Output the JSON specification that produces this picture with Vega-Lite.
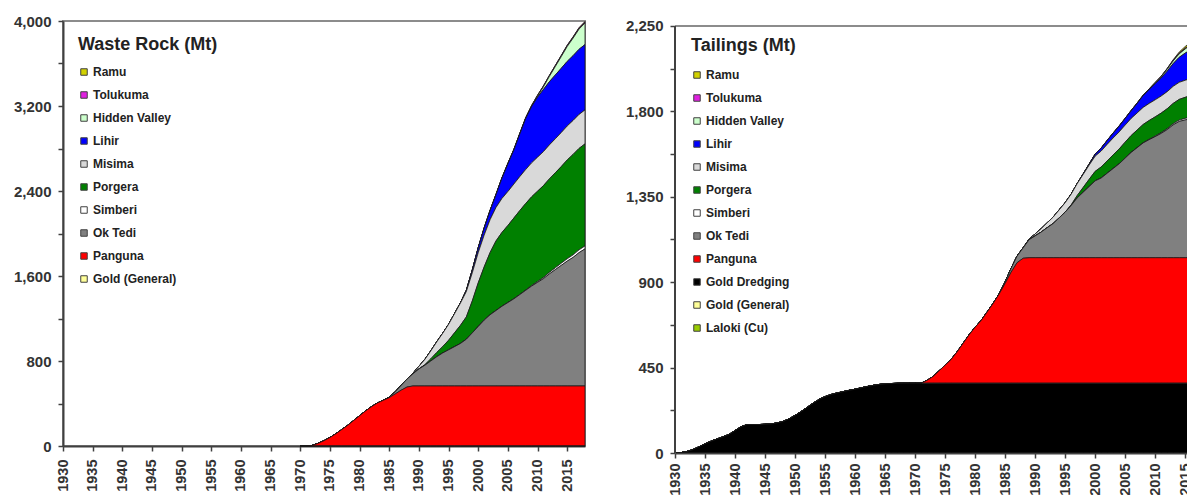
{
  "$schema": "https://vega.github.io/schema/vega-lite/v6.json",
  "background": "white",
  "padding": {"left": 12, "top": 13, "right": 0, "bottom": 0},
  "spacing": 38,
  "resolve": {"scale": {"color": "independent", "x": "independent", "y": "independent"}, "legend": {"color": "independent"}},
  "hconcat": [
    {
      "width": 522,
      "height": 425,
      "data": {"values": [
        {"year":1970,"Ramu":0,"Tolukuma":0,"Hidden Valley":0,"Lihir":0,"Misima":0,"Porgera":0,"Simberi":0,"Ok Tedi":0,"Panguna":0,"Gold (General)":0},
        {"year":1971,"Ramu":0,"Tolukuma":0,"Hidden Valley":0,"Lihir":0,"Misima":0,"Porgera":0,"Simberi":0,"Ok Tedi":0,"Panguna":0,"Gold (General)":0},
        {"year":1972,"Ramu":0,"Tolukuma":0,"Hidden Valley":0,"Lihir":0,"Misima":0,"Porgera":0,"Simberi":0,"Ok Tedi":0,"Panguna":5,"Gold (General)":0},
        {"year":1973,"Ramu":0,"Tolukuma":0,"Hidden Valley":0,"Lihir":0,"Misima":0,"Porgera":0,"Simberi":0,"Ok Tedi":0,"Panguna":25,"Gold (General)":0},
        {"year":1974,"Ramu":0,"Tolukuma":0,"Hidden Valley":0,"Lihir":0,"Misima":0,"Porgera":0,"Simberi":0,"Ok Tedi":0,"Panguna":50,"Gold (General)":0},
        {"year":1975,"Ramu":0,"Tolukuma":0,"Hidden Valley":0,"Lihir":0,"Misima":0,"Porgera":0,"Simberi":0,"Ok Tedi":0,"Panguna":80,"Gold (General)":0},
        {"year":1976,"Ramu":0,"Tolukuma":0,"Hidden Valley":0,"Lihir":0,"Misima":0,"Porgera":0,"Simberi":0,"Ok Tedi":0,"Panguna":115,"Gold (General)":0},
        {"year":1977,"Ramu":0,"Tolukuma":0,"Hidden Valley":0,"Lihir":0,"Misima":0,"Porgera":0,"Simberi":0,"Ok Tedi":0,"Panguna":155,"Gold (General)":0},
        {"year":1978,"Ramu":0,"Tolukuma":0,"Hidden Valley":0,"Lihir":0,"Misima":0,"Porgera":0,"Simberi":0,"Ok Tedi":0,"Panguna":195,"Gold (General)":0},
        {"year":1979,"Ramu":0,"Tolukuma":0,"Hidden Valley":0,"Lihir":0,"Misima":0,"Porgera":0,"Simberi":0,"Ok Tedi":0,"Panguna":240,"Gold (General)":0},
        {"year":1980,"Ramu":0,"Tolukuma":0,"Hidden Valley":0,"Lihir":0,"Misima":0,"Porgera":0,"Simberi":0,"Ok Tedi":0,"Panguna":285,"Gold (General)":0},
        {"year":1981,"Ramu":0,"Tolukuma":0,"Hidden Valley":0,"Lihir":0,"Misima":0,"Porgera":0,"Simberi":0,"Ok Tedi":0,"Panguna":330,"Gold (General)":0},
        {"year":1982,"Ramu":0,"Tolukuma":0,"Hidden Valley":0,"Lihir":0,"Misima":0,"Porgera":0,"Simberi":0,"Ok Tedi":0,"Panguna":370,"Gold (General)":0},
        {"year":1983,"Ramu":0,"Tolukuma":0,"Hidden Valley":0,"Lihir":0,"Misima":0,"Porgera":0,"Simberi":0,"Ok Tedi":0,"Panguna":405,"Gold (General)":0},
        {"year":1984,"Ramu":0,"Tolukuma":0,"Hidden Valley":0,"Lihir":0,"Misima":0,"Porgera":0,"Simberi":0,"Ok Tedi":0,"Panguna":430,"Gold (General)":0},
        {"year":1985,"Ramu":0,"Tolukuma":0,"Hidden Valley":0,"Lihir":0,"Misima":0,"Porgera":0,"Simberi":0,"Ok Tedi":5,"Panguna":455,"Gold (General)":0},
        {"year":1986,"Ramu":0,"Tolukuma":0,"Hidden Valley":0,"Lihir":0,"Misima":0,"Porgera":0,"Simberi":0,"Ok Tedi":20,"Panguna":490,"Gold (General)":0},
        {"year":1987,"Ramu":0,"Tolukuma":0,"Hidden Valley":0,"Lihir":0,"Misima":0,"Porgera":0,"Simberi":0,"Ok Tedi":45,"Panguna":525,"Gold (General)":0},
        {"year":1988,"Ramu":0,"Tolukuma":0,"Hidden Valley":0,"Lihir":0,"Misima":0,"Porgera":0,"Simberi":0,"Ok Tedi":75,"Panguna":555,"Gold (General)":0},
        {"year":1989,"Ramu":0,"Tolukuma":0,"Hidden Valley":0,"Lihir":0,"Misima":5,"Porgera":0,"Simberi":0,"Ok Tedi":115,"Panguna":565,"Gold (General)":0},
        {"year":1990,"Ramu":0,"Tolukuma":0,"Hidden Valley":0,"Lihir":0,"Misima":25,"Porgera":0,"Simberi":0,"Ok Tedi":160,"Panguna":565,"Gold (General)":0},
        {"year":1991,"Ramu":0,"Tolukuma":0,"Hidden Valley":0,"Lihir":0,"Misima":50,"Porgera":5,"Simberi":0,"Ok Tedi":195,"Panguna":565,"Gold (General)":0},
        {"year":1992,"Ramu":0,"Tolukuma":0,"Hidden Valley":0,"Lihir":0,"Misima":75,"Porgera":20,"Simberi":0,"Ok Tedi":235,"Panguna":565,"Gold (General)":0},
        {"year":1993,"Ramu":0,"Tolukuma":0,"Hidden Valley":0,"Lihir":0,"Misima":100,"Porgera":40,"Simberi":0,"Ok Tedi":275,"Panguna":565,"Gold (General)":0},
        {"year":1994,"Ramu":0,"Tolukuma":0,"Hidden Valley":0,"Lihir":0,"Misima":125,"Porgera":60,"Simberi":0,"Ok Tedi":310,"Panguna":565,"Gold (General)":0},
        {"year":1995,"Ramu":0,"Tolukuma":0,"Hidden Valley":0,"Lihir":0,"Misima":150,"Porgera":90,"Simberi":0,"Ok Tedi":340,"Panguna":565,"Gold (General)":0},
        {"year":1996,"Ramu":0,"Tolukuma":0.4,"Hidden Valley":0,"Lihir":0,"Misima":180,"Porgera":130,"Simberi":0,"Ok Tedi":370,"Panguna":565,"Gold (General)":0},
        {"year":1997,"Ramu":0,"Tolukuma":0.9,"Hidden Valley":0,"Lihir":2,"Misima":210,"Porgera":170,"Simberi":0,"Ok Tedi":400,"Panguna":565,"Gold (General)":0},
        {"year":1998,"Ramu":0,"Tolukuma":1.5,"Hidden Valley":0,"Lihir":10,"Misima":240,"Porgera":210,"Simberi":0,"Ok Tedi":440,"Panguna":565,"Gold (General)":0},
        {"year":1999,"Ramu":0,"Tolukuma":2,"Hidden Valley":0,"Lihir":25,"Misima":265,"Porgera":300,"Simberi":0,"Ok Tedi":500,"Panguna":565,"Gold (General)":0},
        {"year":2000,"Ramu":0,"Tolukuma":2.6,"Hidden Valley":0,"Lihir":45,"Misima":285,"Porgera":410,"Simberi":0,"Ok Tedi":560,"Panguna":565,"Gold (General)":0},
        {"year":2001,"Ramu":0,"Tolukuma":3.1,"Hidden Valley":0,"Lihir":65,"Misima":300,"Porgera":500,"Simberi":0,"Ok Tedi":620,"Panguna":565,"Gold (General)":0},
        {"year":2002,"Ramu":0,"Tolukuma":3.5,"Hidden Valley":0,"Lihir":85,"Misima":310,"Porgera":585,"Simberi":0,"Ok Tedi":670,"Panguna":565,"Gold (General)":0},
        {"year":2003,"Ramu":0,"Tolukuma":4,"Hidden Valley":0,"Lihir":120,"Misima":315,"Porgera":655,"Simberi":0,"Ok Tedi":710,"Panguna":565,"Gold (General)":0},
        {"year":2004,"Ramu":0,"Tolukuma":4.6,"Hidden Valley":0,"Lihir":190,"Misima":320,"Porgera":695,"Simberi":0,"Ok Tedi":750,"Panguna":565,"Gold (General)":0},
        {"year":2005,"Ramu":0,"Tolukuma":5.1,"Hidden Valley":0,"Lihir":260,"Misima":320,"Porgera":725,"Simberi":0,"Ok Tedi":785,"Panguna":565,"Gold (General)":0},
        {"year":2006,"Ramu":0,"Tolukuma":5.5,"Hidden Valley":0,"Lihir":320,"Misima":320,"Porgera":760,"Simberi":0,"Ok Tedi":820,"Panguna":565,"Gold (General)":0},
        {"year":2007,"Ramu":0,"Tolukuma":6,"Hidden Valley":0,"Lihir":400,"Misima":320,"Porgera":790,"Simberi":0,"Ok Tedi":860,"Panguna":565,"Gold (General)":0},
        {"year":2008,"Ramu":0,"Tolukuma":6.6,"Hidden Valley":0,"Lihir":480,"Misima":320,"Porgera":815,"Simberi":2,"Ok Tedi":900,"Panguna":565,"Gold (General)":0},
        {"year":2009,"Ramu":0,"Tolukuma":7.1,"Hidden Valley":2,"Lihir":530,"Misima":320,"Porgera":835,"Simberi":5,"Ok Tedi":940,"Panguna":565,"Gold (General)":0},
        {"year":2010,"Ramu":0,"Tolukuma":7.5,"Hidden Valley":10,"Lihir":565,"Misima":320,"Porgera":850,"Simberi":8,"Ok Tedi":975,"Panguna":565,"Gold (General)":0},
        {"year":2011,"Ramu":0,"Tolukuma":7.9,"Hidden Valley":25,"Lihir":585,"Misima":320,"Porgera":865,"Simberi":11,"Ok Tedi":1010,"Panguna":565,"Gold (General)":0},
        {"year":2012,"Ramu":0.4,"Tolukuma":8.3,"Hidden Valley":50,"Lihir":595,"Misima":320,"Porgera":880,"Simberi":14,"Ok Tedi":1055,"Panguna":565,"Gold (General)":0},
        {"year":2013,"Ramu":1.3,"Tolukuma":8.6,"Hidden Valley":80,"Lihir":600,"Misima":320,"Porgera":895,"Simberi":17,"Ok Tedi":1095,"Panguna":565,"Gold (General)":0},
        {"year":2014,"Ramu":2.4,"Tolukuma":8.9,"Hidden Valley":110,"Lihir":605,"Misima":320,"Porgera":910,"Simberi":20,"Ok Tedi":1135,"Panguna":565,"Gold (General)":0},
        {"year":2015,"Ramu":3.3,"Tolukuma":9.1,"Hidden Valley":140,"Lihir":608,"Misima":320,"Porgera":930,"Simberi":22,"Ok Tedi":1175,"Panguna":565,"Gold (General)":0},
        {"year":2016,"Ramu":4.4,"Tolukuma":9.1,"Hidden Valley":165,"Lihir":610,"Misima":320,"Porgera":945,"Simberi":24,"Ok Tedi":1210,"Panguna":565,"Gold (General)":0},
        {"year":2017,"Ramu":5.2,"Tolukuma":9.1,"Hidden Valley":190,"Lihir":613,"Misima":320,"Porgera":955,"Simberi":26,"Ok Tedi":1255,"Panguna":565,"Gold (General)":0},
        {"year":2018,"Ramu":6.1,"Tolukuma":9.1,"Hidden Valley":203,"Lihir":615,"Misima":320,"Porgera":960,"Simberi":28,"Ok Tedi":1290,"Panguna":565,"Gold (General)":0}
      ]},
      "transform": [
        {"fold": ["Ramu","Tolukuma","Hidden Valley","Lihir","Misima","Porgera","Simberi","Ok Tedi","Panguna","Gold (General)"], "as": ["mine","value"]},
        {"calculate": "indexof(['Gold (General)','Panguna','Ok Tedi','Simberi','Porgera','Misima','Lihir','Hidden Valley','Tolukuma','Ramu'], datum.mine)", "as": "ord"}
      ],
      "mark": {"type": "area", "stroke": "#1a1a1a", "strokeWidth": 0.8, "strokeJoin": "round"},
      "encoding": {
        "x": {"field": "year", "type": "quantitative", "title": null,
              "scale": {"domain": [1930, 2018], "nice": false, "zero": false},
              "axis": {"values": [1930,1935,1940,1945,1950,1955,1960,1965,1970,1975,1980,1985,1990,1995,2000,2005,2010,2015], "format": "d", "labelPadding": 8}},
        "y": {"field": "value", "type": "quantitative", "stack": "zero", "title": null,
              "scale": {"domain": [0, 4000], "nice": false},
              "axis": {"values": [0,400,800,1200,1600,2000,2400,2800,3200,3600,4000], "labelExpr": "datum.value % 800 === 0 ? format(datum.value, ',') : ''"}},
        "color": {"field": "mine", "type": "nominal",
                  "scale": {"domain": ["Ramu","Tolukuma","Hidden Valley","Lihir","Misima","Porgera","Simberi","Ok Tedi","Panguna","Gold (General)"],
                            "range": ["#D2D200","#E020E0","#CCFFCC","#0000FF","#D9D9D9","#008000","#FFFFFF","#808080","#FF0000","#FFFF99"]},
                  "legend": {"title": "Waste Rock (Mt)", "offset": 15}},
        "order": {"field": "ord", "type": "quantitative"}
      }
    },
    {
      "width": 515,
      "height": 432,
      "view": {"stroke": null},
      "data": {"values": [
        {"year":1930,"Ramu":0,"Tolukuma":0,"Hidden Valley":0,"Lihir":0,"Misima":0,"Porgera":0,"Simberi":0,"Ok Tedi":0,"Panguna":0,"Gold Dredging":0,"Gold (General)":0,"Laloki (Cu)":0},
        {"year":1931,"Ramu":0,"Tolukuma":0,"Hidden Valley":0,"Lihir":0,"Misima":0,"Porgera":0,"Simberi":0,"Ok Tedi":0,"Panguna":0,"Gold Dredging":2,"Gold (General)":0,"Laloki (Cu)":0},
        {"year":1932,"Ramu":0,"Tolukuma":0,"Hidden Valley":0,"Lihir":0,"Misima":0,"Porgera":0,"Simberi":0,"Ok Tedi":0,"Panguna":0,"Gold Dredging":8,"Gold (General)":0,"Laloki (Cu)":0},
        {"year":1933,"Ramu":0,"Tolukuma":0,"Hidden Valley":0,"Lihir":0,"Misima":0,"Porgera":0,"Simberi":0,"Ok Tedi":0,"Panguna":0,"Gold Dredging":18,"Gold (General)":0,"Laloki (Cu)":0},
        {"year":1934,"Ramu":0,"Tolukuma":0,"Hidden Valley":0,"Lihir":0,"Misima":0,"Porgera":0,"Simberi":0,"Ok Tedi":0,"Panguna":0,"Gold Dredging":33,"Gold (General)":0,"Laloki (Cu)":0},
        {"year":1935,"Ramu":0,"Tolukuma":0,"Hidden Valley":0,"Lihir":0,"Misima":0,"Porgera":0,"Simberi":0,"Ok Tedi":0,"Panguna":0,"Gold Dredging":48,"Gold (General)":0,"Laloki (Cu)":0},
        {"year":1936,"Ramu":0,"Tolukuma":0,"Hidden Valley":0,"Lihir":0,"Misima":0,"Porgera":0,"Simberi":0,"Ok Tedi":0,"Panguna":0,"Gold Dredging":62,"Gold (General)":0,"Laloki (Cu)":0},
        {"year":1937,"Ramu":0,"Tolukuma":0,"Hidden Valley":0,"Lihir":0,"Misima":0,"Porgera":0,"Simberi":0,"Ok Tedi":0,"Panguna":0,"Gold Dredging":74,"Gold (General)":0,"Laloki (Cu)":0},
        {"year":1938,"Ramu":0,"Tolukuma":0,"Hidden Valley":0,"Lihir":0,"Misima":0,"Porgera":0,"Simberi":0,"Ok Tedi":0,"Panguna":0,"Gold Dredging":85,"Gold (General)":0,"Laloki (Cu)":0},
        {"year":1939,"Ramu":0,"Tolukuma":0,"Hidden Valley":0,"Lihir":0,"Misima":0,"Porgera":0,"Simberi":0,"Ok Tedi":0,"Panguna":0,"Gold Dredging":98,"Gold (General)":0,"Laloki (Cu)":0},
        {"year":1940,"Ramu":0,"Tolukuma":0,"Hidden Valley":0,"Lihir":0,"Misima":0,"Porgera":0,"Simberi":0,"Ok Tedi":0,"Panguna":0,"Gold Dredging":118,"Gold (General)":0,"Laloki (Cu)":0},
        {"year":1941,"Ramu":0,"Tolukuma":0,"Hidden Valley":0,"Lihir":0,"Misima":0,"Porgera":0,"Simberi":0,"Ok Tedi":0,"Panguna":0,"Gold Dredging":138,"Gold (General)":0,"Laloki (Cu)":0},
        {"year":1942,"Ramu":0,"Tolukuma":0,"Hidden Valley":0,"Lihir":0,"Misima":0,"Porgera":0,"Simberi":0,"Ok Tedi":0,"Panguna":0,"Gold Dredging":150,"Gold (General)":0,"Laloki (Cu)":0},
        {"year":1943,"Ramu":0,"Tolukuma":0,"Hidden Valley":0,"Lihir":0,"Misima":0,"Porgera":0,"Simberi":0,"Ok Tedi":0,"Panguna":0,"Gold Dredging":150,"Gold (General)":0,"Laloki (Cu)":0},
        {"year":1944,"Ramu":0,"Tolukuma":0,"Hidden Valley":0,"Lihir":0,"Misima":0,"Porgera":0,"Simberi":0,"Ok Tedi":0,"Panguna":0,"Gold Dredging":150,"Gold (General)":0,"Laloki (Cu)":0},
        {"year":1945,"Ramu":0,"Tolukuma":0,"Hidden Valley":0,"Lihir":0,"Misima":0,"Porgera":0,"Simberi":0,"Ok Tedi":0,"Panguna":0,"Gold Dredging":151,"Gold (General)":0,"Laloki (Cu)":0},
        {"year":1946,"Ramu":0,"Tolukuma":0,"Hidden Valley":0,"Lihir":0,"Misima":0,"Porgera":0,"Simberi":0,"Ok Tedi":0,"Panguna":0,"Gold Dredging":153,"Gold (General)":0,"Laloki (Cu)":0},
        {"year":1947,"Ramu":0,"Tolukuma":0,"Hidden Valley":0,"Lihir":0,"Misima":0,"Porgera":0,"Simberi":0,"Ok Tedi":0,"Panguna":0,"Gold Dredging":158,"Gold (General)":0,"Laloki (Cu)":0},
        {"year":1948,"Ramu":0,"Tolukuma":0,"Hidden Valley":0,"Lihir":0,"Misima":0,"Porgera":0,"Simberi":0,"Ok Tedi":0,"Panguna":0,"Gold Dredging":166,"Gold (General)":0,"Laloki (Cu)":0},
        {"year":1949,"Ramu":0,"Tolukuma":0,"Hidden Valley":0,"Lihir":0,"Misima":0,"Porgera":0,"Simberi":0,"Ok Tedi":0,"Panguna":0,"Gold Dredging":180,"Gold (General)":0,"Laloki (Cu)":0},
        {"year":1950,"Ramu":0,"Tolukuma":0,"Hidden Valley":0,"Lihir":0,"Misima":0,"Porgera":0,"Simberi":0,"Ok Tedi":0,"Panguna":0,"Gold Dredging":198,"Gold (General)":0,"Laloki (Cu)":0},
        {"year":1951,"Ramu":0,"Tolukuma":0,"Hidden Valley":0,"Lihir":0,"Misima":0,"Porgera":0,"Simberi":0,"Ok Tedi":0,"Panguna":0,"Gold Dredging":218,"Gold (General)":0,"Laloki (Cu)":0},
        {"year":1952,"Ramu":0,"Tolukuma":0,"Hidden Valley":0,"Lihir":0,"Misima":0,"Porgera":0,"Simberi":0,"Ok Tedi":0,"Panguna":0,"Gold Dredging":240,"Gold (General)":0,"Laloki (Cu)":0},
        {"year":1953,"Ramu":0,"Tolukuma":0,"Hidden Valley":0,"Lihir":0,"Misima":0,"Porgera":0,"Simberi":0,"Ok Tedi":0,"Panguna":0,"Gold Dredging":262,"Gold (General)":0,"Laloki (Cu)":0},
        {"year":1954,"Ramu":0,"Tolukuma":0,"Hidden Valley":0,"Lihir":0,"Misima":0,"Porgera":0,"Simberi":0,"Ok Tedi":0,"Panguna":0,"Gold Dredging":282,"Gold (General)":0,"Laloki (Cu)":0},
        {"year":1955,"Ramu":0,"Tolukuma":0,"Hidden Valley":0,"Lihir":0,"Misima":0,"Porgera":0,"Simberi":0,"Ok Tedi":0,"Panguna":0,"Gold Dredging":297,"Gold (General)":0,"Laloki (Cu)":0},
        {"year":1956,"Ramu":0,"Tolukuma":0,"Hidden Valley":0,"Lihir":0,"Misima":0,"Porgera":0,"Simberi":0,"Ok Tedi":0,"Panguna":0,"Gold Dredging":308,"Gold (General)":0,"Laloki (Cu)":0},
        {"year":1957,"Ramu":0,"Tolukuma":0,"Hidden Valley":0,"Lihir":0,"Misima":0,"Porgera":0,"Simberi":0,"Ok Tedi":0,"Panguna":0,"Gold Dredging":316,"Gold (General)":0,"Laloki (Cu)":0},
        {"year":1958,"Ramu":0,"Tolukuma":0,"Hidden Valley":0,"Lihir":0,"Misima":0,"Porgera":0,"Simberi":0,"Ok Tedi":0,"Panguna":0,"Gold Dredging":323,"Gold (General)":0,"Laloki (Cu)":0},
        {"year":1959,"Ramu":0,"Tolukuma":0,"Hidden Valley":0,"Lihir":0,"Misima":0,"Porgera":0,"Simberi":0,"Ok Tedi":0,"Panguna":0,"Gold Dredging":330,"Gold (General)":0,"Laloki (Cu)":0},
        {"year":1960,"Ramu":0,"Tolukuma":0,"Hidden Valley":0,"Lihir":0,"Misima":0,"Porgera":0,"Simberi":0,"Ok Tedi":0,"Panguna":0,"Gold Dredging":336,"Gold (General)":0,"Laloki (Cu)":0},
        {"year":1961,"Ramu":0,"Tolukuma":0,"Hidden Valley":0,"Lihir":0,"Misima":0,"Porgera":0,"Simberi":0,"Ok Tedi":0,"Panguna":0,"Gold Dredging":343,"Gold (General)":0,"Laloki (Cu)":0},
        {"year":1962,"Ramu":0,"Tolukuma":0,"Hidden Valley":0,"Lihir":0,"Misima":0,"Porgera":0,"Simberi":0,"Ok Tedi":0,"Panguna":0,"Gold Dredging":350,"Gold (General)":0,"Laloki (Cu)":0},
        {"year":1963,"Ramu":0,"Tolukuma":0,"Hidden Valley":0,"Lihir":0,"Misima":0,"Porgera":0,"Simberi":0,"Ok Tedi":0,"Panguna":0,"Gold Dredging":356,"Gold (General)":0,"Laloki (Cu)":0},
        {"year":1964,"Ramu":0,"Tolukuma":0,"Hidden Valley":0,"Lihir":0,"Misima":0,"Porgera":0,"Simberi":0,"Ok Tedi":0,"Panguna":0,"Gold Dredging":361,"Gold (General)":0,"Laloki (Cu)":0},
        {"year":1965,"Ramu":0,"Tolukuma":0,"Hidden Valley":0,"Lihir":0,"Misima":0,"Porgera":0,"Simberi":0,"Ok Tedi":0,"Panguna":0,"Gold Dredging":364,"Gold (General)":0,"Laloki (Cu)":0},
        {"year":1966,"Ramu":0,"Tolukuma":0,"Hidden Valley":0,"Lihir":0,"Misima":0,"Porgera":0,"Simberi":0,"Ok Tedi":0,"Panguna":0,"Gold Dredging":366,"Gold (General)":0,"Laloki (Cu)":0},
        {"year":1967,"Ramu":0,"Tolukuma":0,"Hidden Valley":0,"Lihir":0,"Misima":0,"Porgera":0,"Simberi":0,"Ok Tedi":0,"Panguna":0,"Gold Dredging":367,"Gold (General)":0,"Laloki (Cu)":0},
        {"year":1968,"Ramu":0,"Tolukuma":0,"Hidden Valley":0,"Lihir":0,"Misima":0,"Porgera":0,"Simberi":0,"Ok Tedi":0,"Panguna":0,"Gold Dredging":368,"Gold (General)":0,"Laloki (Cu)":0},
        {"year":1969,"Ramu":0,"Tolukuma":0,"Hidden Valley":0,"Lihir":0,"Misima":0,"Porgera":0,"Simberi":0,"Ok Tedi":0,"Panguna":0,"Gold Dredging":368,"Gold (General)":0,"Laloki (Cu)":0},
        {"year":1970,"Ramu":0,"Tolukuma":0,"Hidden Valley":0,"Lihir":0,"Misima":0,"Porgera":0,"Simberi":0,"Ok Tedi":0,"Panguna":0,"Gold Dredging":368,"Gold (General)":0,"Laloki (Cu)":0},
        {"year":1971,"Ramu":0,"Tolukuma":0,"Hidden Valley":0,"Lihir":0,"Misima":0,"Porgera":0,"Simberi":0,"Ok Tedi":0,"Panguna":0,"Gold Dredging":368,"Gold (General)":0,"Laloki (Cu)":0},
        {"year":1972,"Ramu":0,"Tolukuma":0,"Hidden Valley":0,"Lihir":0,"Misima":0,"Porgera":0,"Simberi":0,"Ok Tedi":0,"Panguna":15,"Gold Dredging":368,"Gold (General)":0,"Laloki (Cu)":0},
        {"year":1973,"Ramu":0,"Tolukuma":0,"Hidden Valley":0,"Lihir":0,"Misima":0,"Porgera":0,"Simberi":0,"Ok Tedi":0,"Panguna":35,"Gold Dredging":368,"Gold (General)":0,"Laloki (Cu)":0},
        {"year":1974,"Ramu":0,"Tolukuma":0,"Hidden Valley":0,"Lihir":0,"Misima":0,"Porgera":0,"Simberi":0,"Ok Tedi":0,"Panguna":65,"Gold Dredging":368,"Gold (General)":0,"Laloki (Cu)":0},
        {"year":1975,"Ramu":0,"Tolukuma":0,"Hidden Valley":0,"Lihir":0,"Misima":0,"Porgera":0,"Simberi":0,"Ok Tedi":0,"Panguna":95,"Gold Dredging":368,"Gold (General)":0,"Laloki (Cu)":0},
        {"year":1976,"Ramu":0,"Tolukuma":0,"Hidden Valley":0,"Lihir":0,"Misima":0,"Porgera":0,"Simberi":0,"Ok Tedi":0,"Panguna":125,"Gold Dredging":368,"Gold (General)":0,"Laloki (Cu)":0},
        {"year":1977,"Ramu":0,"Tolukuma":0,"Hidden Valley":0,"Lihir":0,"Misima":0,"Porgera":0,"Simberi":0,"Ok Tedi":0,"Panguna":165,"Gold Dredging":368,"Gold (General)":0,"Laloki (Cu)":0},
        {"year":1978,"Ramu":0,"Tolukuma":0,"Hidden Valley":0,"Lihir":0,"Misima":0,"Porgera":0,"Simberi":0,"Ok Tedi":0,"Panguna":210,"Gold Dredging":368,"Gold (General)":0,"Laloki (Cu)":0},
        {"year":1979,"Ramu":0,"Tolukuma":0,"Hidden Valley":0,"Lihir":0,"Misima":0,"Porgera":0,"Simberi":0,"Ok Tedi":0,"Panguna":255,"Gold Dredging":368,"Gold (General)":0,"Laloki (Cu)":0},
        {"year":1980,"Ramu":0,"Tolukuma":0,"Hidden Valley":0,"Lihir":0,"Misima":0,"Porgera":0,"Simberi":0,"Ok Tedi":0,"Panguna":295,"Gold Dredging":368,"Gold (General)":0,"Laloki (Cu)":0},
        {"year":1981,"Ramu":0,"Tolukuma":0,"Hidden Valley":0,"Lihir":0,"Misima":0,"Porgera":0,"Simberi":0,"Ok Tedi":0,"Panguna":330,"Gold Dredging":368,"Gold (General)":0,"Laloki (Cu)":0},
        {"year":1982,"Ramu":0,"Tolukuma":0,"Hidden Valley":0,"Lihir":0,"Misima":0,"Porgera":0,"Simberi":0,"Ok Tedi":0,"Panguna":375,"Gold Dredging":368,"Gold (General)":0,"Laloki (Cu)":0},
        {"year":1983,"Ramu":0,"Tolukuma":0,"Hidden Valley":0,"Lihir":0,"Misima":0,"Porgera":0,"Simberi":0,"Ok Tedi":0,"Panguna":420,"Gold Dredging":368,"Gold (General)":0,"Laloki (Cu)":0},
        {"year":1984,"Ramu":0,"Tolukuma":0,"Hidden Valley":0,"Lihir":0,"Misima":0,"Porgera":0,"Simberi":0,"Ok Tedi":0,"Panguna":470,"Gold Dredging":368,"Gold (General)":0,"Laloki (Cu)":0},
        {"year":1985,"Ramu":0,"Tolukuma":0,"Hidden Valley":0,"Lihir":0,"Misima":0,"Porgera":0,"Simberi":0,"Ok Tedi":8,"Panguna":525,"Gold Dredging":368,"Gold (General)":0,"Laloki (Cu)":0},
        {"year":1986,"Ramu":0,"Tolukuma":0,"Hidden Valley":0,"Lihir":0,"Misima":0,"Porgera":0,"Simberi":0,"Ok Tedi":20,"Panguna":585,"Gold Dredging":368,"Gold (General)":0,"Laloki (Cu)":0},
        {"year":1987,"Ramu":0,"Tolukuma":0,"Hidden Valley":0,"Lihir":0,"Misima":0,"Porgera":0,"Simberi":0,"Ok Tedi":35,"Panguna":635,"Gold Dredging":368,"Gold (General)":0,"Laloki (Cu)":0},
        {"year":1988,"Ramu":0,"Tolukuma":0,"Hidden Valley":0,"Lihir":0,"Misima":0,"Porgera":0,"Simberi":0,"Ok Tedi":55,"Panguna":658,"Gold Dredging":368,"Gold (General)":0,"Laloki (Cu)":0},
        {"year":1989,"Ramu":0,"Tolukuma":0,"Hidden Valley":0,"Lihir":0,"Misima":3,"Porgera":0,"Simberi":0,"Ok Tedi":95,"Panguna":661,"Gold Dredging":368,"Gold (General)":0,"Laloki (Cu)":0},
        {"year":1990,"Ramu":0,"Tolukuma":0,"Hidden Valley":0,"Lihir":0,"Misima":10,"Porgera":0,"Simberi":0,"Ok Tedi":115,"Panguna":661,"Gold Dredging":368,"Gold (General)":0,"Laloki (Cu)":0},
        {"year":1991,"Ramu":0,"Tolukuma":0,"Hidden Valley":0,"Lihir":0,"Misima":18,"Porgera":0,"Simberi":0,"Ok Tedi":135,"Panguna":661,"Gold Dredging":368,"Gold (General)":0,"Laloki (Cu)":0},
        {"year":1992,"Ramu":0,"Tolukuma":0,"Hidden Valley":0,"Lihir":0,"Misima":26,"Porgera":0,"Simberi":0,"Ok Tedi":158,"Panguna":661,"Gold Dredging":368,"Gold (General)":0,"Laloki (Cu)":0},
        {"year":1993,"Ramu":0,"Tolukuma":0,"Hidden Valley":0,"Lihir":0,"Misima":34,"Porgera":0,"Simberi":0,"Ok Tedi":180,"Panguna":661,"Gold Dredging":368,"Gold (General)":0,"Laloki (Cu)":0},
        {"year":1994,"Ramu":0,"Tolukuma":0,"Hidden Valley":0,"Lihir":0,"Misima":42,"Porgera":0,"Simberi":0,"Ok Tedi":210,"Panguna":661,"Gold Dredging":368,"Gold (General)":0,"Laloki (Cu)":0},
        {"year":1995,"Ramu":0,"Tolukuma":0,"Hidden Valley":0,"Lihir":0,"Misima":50,"Porgera":0,"Simberi":0,"Ok Tedi":240,"Panguna":661,"Gold Dredging":368,"Gold (General)":0,"Laloki (Cu)":0},
        {"year":1996,"Ramu":0,"Tolukuma":0.2,"Hidden Valley":0,"Lihir":0,"Misima":57,"Porgera":3,"Simberi":0,"Ok Tedi":275,"Panguna":661,"Gold Dredging":368,"Gold (General)":0,"Laloki (Cu)":0},
        {"year":1997,"Ramu":0,"Tolukuma":0.4,"Hidden Valley":0,"Lihir":0,"Misima":63,"Porgera":12,"Simberi":0,"Ok Tedi":315,"Panguna":661,"Gold Dredging":368,"Gold (General)":0,"Laloki (Cu)":0},
        {"year":1998,"Ramu":0,"Tolukuma":0.6,"Hidden Valley":0,"Lihir":2,"Misima":69,"Porgera":25,"Simberi":0,"Ok Tedi":345,"Panguna":661,"Gold Dredging":368,"Gold (General)":0,"Laloki (Cu)":0},
        {"year":1999,"Ramu":0,"Tolukuma":0.8,"Hidden Valley":0,"Lihir":5,"Misima":75,"Porgera":38,"Simberi":0,"Ok Tedi":375,"Panguna":661,"Gold Dredging":368,"Gold (General)":0,"Laloki (Cu)":0},
        {"year":2000,"Ramu":0,"Tolukuma":1,"Hidden Valley":0,"Lihir":10,"Misima":80,"Porgera":50,"Simberi":0,"Ok Tedi":405,"Panguna":661,"Gold Dredging":368,"Gold (General)":0,"Laloki (Cu)":0},
        {"year":2001,"Ramu":0,"Tolukuma":1.2,"Hidden Valley":0,"Lihir":15,"Misima":84,"Porgera":58,"Simberi":0,"Ok Tedi":420,"Panguna":661,"Gold Dredging":368,"Gold (General)":0,"Laloki (Cu)":0},
        {"year":2002,"Ramu":0,"Tolukuma":1.4,"Hidden Valley":0,"Lihir":20,"Misima":87,"Porgera":65,"Simberi":0,"Ok Tedi":445,"Panguna":661,"Gold Dredging":368,"Gold (General)":0,"Laloki (Cu)":0},
        {"year":2003,"Ramu":0,"Tolukuma":1.6,"Hidden Valley":0,"Lihir":25,"Misima":89,"Porgera":72,"Simberi":0,"Ok Tedi":470,"Panguna":661,"Gold Dredging":368,"Gold (General)":0,"Laloki (Cu)":0},
        {"year":2004,"Ramu":0,"Tolukuma":1.8,"Hidden Valley":0,"Lihir":30,"Misima":90,"Porgera":78,"Simberi":0,"Ok Tedi":495,"Panguna":661,"Gold Dredging":368,"Gold (General)":0,"Laloki (Cu)":0},
        {"year":2005,"Ramu":0,"Tolukuma":2,"Hidden Valley":0,"Lihir":34,"Misima":90,"Porgera":84,"Simberi":0,"Ok Tedi":525,"Panguna":661,"Gold Dredging":368,"Gold (General)":0,"Laloki (Cu)":0},
        {"year":2006,"Ramu":0,"Tolukuma":2.2,"Hidden Valley":0,"Lihir":40,"Misima":90,"Porgera":89,"Simberi":0,"Ok Tedi":555,"Panguna":661,"Gold Dredging":368,"Gold (General)":0,"Laloki (Cu)":0},
        {"year":2007,"Ramu":0,"Tolukuma":2.4,"Hidden Valley":0,"Lihir":50,"Misima":90,"Porgera":93,"Simberi":0,"Ok Tedi":580,"Panguna":661,"Gold Dredging":368,"Gold (General)":0,"Laloki (Cu)":0},
        {"year":2008,"Ramu":0,"Tolukuma":2.6,"Hidden Valley":0,"Lihir":62,"Misima":90,"Porgera":96,"Simberi":1,"Ok Tedi":605,"Panguna":661,"Gold Dredging":368,"Gold (General)":0,"Laloki (Cu)":0},
        {"year":2009,"Ramu":0,"Tolukuma":2.8,"Hidden Valley":1,"Lihir":73,"Misima":90,"Porgera":99,"Simberi":2,"Ok Tedi":622,"Panguna":661,"Gold Dredging":368,"Gold (General)":0,"Laloki (Cu)":0},
        {"year":2010,"Ramu":0,"Tolukuma":3,"Hidden Valley":3,"Lihir":85,"Misima":90,"Porgera":101,"Simberi":3,"Ok Tedi":638,"Panguna":661,"Gold Dredging":368,"Gold (General)":0,"Laloki (Cu)":0},
        {"year":2011,"Ramu":0,"Tolukuma":3.2,"Hidden Valley":6,"Lihir":95,"Misima":90,"Porgera":103,"Simberi":4,"Ok Tedi":655,"Panguna":661,"Gold Dredging":368,"Gold (General)":0,"Laloki (Cu)":0},
        {"year":2012,"Ramu":1,"Tolukuma":3.4,"Hidden Valley":10,"Lihir":108,"Misima":90,"Porgera":105,"Simberi":5,"Ok Tedi":675,"Panguna":661,"Gold Dredging":368,"Gold (General)":0,"Laloki (Cu)":0},
        {"year":2013,"Ramu":3,"Tolukuma":3.5,"Hidden Valley":14,"Lihir":120,"Misima":90,"Porgera":107,"Simberi":6,"Ok Tedi":700,"Panguna":661,"Gold Dredging":368,"Gold (General)":0,"Laloki (Cu)":0},
        {"year":2014,"Ramu":6,"Tolukuma":3.6,"Hidden Valley":18,"Lihir":132,"Misima":90,"Porgera":109,"Simberi":7,"Ok Tedi":718,"Panguna":661,"Gold Dredging":368,"Gold (General)":0,"Laloki (Cu)":0},
        {"year":2015,"Ramu":9,"Tolukuma":3.7,"Hidden Valley":22,"Lihir":143,"Misima":90,"Porgera":111,"Simberi":8,"Ok Tedi":726,"Panguna":661,"Gold Dredging":368,"Gold (General)":0,"Laloki (Cu)":0},
        {"year":2016,"Ramu":12,"Tolukuma":3.7,"Hidden Valley":26,"Lihir":152,"Misima":90,"Porgera":113,"Simberi":9,"Ok Tedi":733,"Panguna":661,"Gold Dredging":368,"Gold (General)":0,"Laloki (Cu)":0},
        {"year":2017,"Ramu":15,"Tolukuma":3.7,"Hidden Valley":30,"Lihir":162,"Misima":90,"Porgera":115,"Simberi":10,"Ok Tedi":740,"Panguna":661,"Gold Dredging":368,"Gold (General)":0,"Laloki (Cu)":0},
        {"year":2018,"Ramu":18,"Tolukuma":3.7,"Hidden Valley":34,"Lihir":172,"Misima":90,"Porgera":117,"Simberi":11,"Ok Tedi":748,"Panguna":661,"Gold Dredging":368,"Gold (General)":0,"Laloki (Cu)":0}
      ]},
      "transform": [
        {"fold": ["Ramu","Tolukuma","Hidden Valley","Lihir","Misima","Porgera","Simberi","Ok Tedi","Panguna","Gold Dredging","Gold (General)","Laloki (Cu)"], "as": ["mine","value"]},
        {"calculate": "indexof(['Laloki (Cu)','Gold (General)','Gold Dredging','Panguna','Ok Tedi','Simberi','Porgera','Misima','Lihir','Hidden Valley','Tolukuma','Ramu'], datum.mine)", "as": "ord"}
      ],
      "layer": [
        {
          "mark": {"type": "area", "stroke": "#1a1a1a", "strokeWidth": 0.8, "strokeJoin": "round", "clip": true},
          "encoding": {
            "x": {"field": "year", "type": "quantitative", "title": null,
                  "scale": {"domain": [1930, 2015.8], "nice": false, "zero": false},
                  "axis": {"values": [1930,1935,1940,1945,1950,1955,1960,1965,1970,1975,1980,1985,1990,1995,2000,2005,2010,2015], "format": "d"}},
            "y": {"field": "value", "type": "quantitative", "stack": "zero", "title": null,
                  "scale": {"domain": [0, 2276.3], "nice": false},
                  "axis": {"values": [0,225,450,675,900,1125,1350,1575,1800,2025,2250], "domain": false, "labelExpr": "datum.value % 450 === 0 ? format(datum.value, ',') : ''"}},
            "color": {"field": "mine", "type": "nominal",
                      "scale": {"domain": ["Ramu","Tolukuma","Hidden Valley","Lihir","Misima","Porgera","Simberi","Ok Tedi","Panguna","Gold Dredging","Gold (General)","Laloki (Cu)"],
                                "range": ["#D2D200","#E020E0","#CCFFCC","#0000FF","#D9D9D9","#008000","#FFFFFF","#808080","#FF0000","#000000","#FFFF99","#99CC00"]},
                      "legend": {"title": "Tailings (Mt)", "offset": 16, "titlePadding": 14}},
            "order": {"field": "ord", "type": "quantitative"}
          }
        },
        {
          "mark": {"type": "rule", "color": "#8c8c8c", "strokeWidth": 2},
          "encoding": {"y": {"datum": 2250, "type": "quantitative", "title": null,
                             "axis": {"values": [0,225,450,675,900,1125,1350,1575,1800,2025,2250], "domain": false, "labelExpr": "datum.value % 450 === 0 ? format(datum.value, ',') : ''"}}}
        },
        {
          "mark": {"type": "rule", "color": "#404040", "strokeWidth": 2},
          "encoding": {
            "x": {"datum": 1930, "type": "quantitative", "title": null,
                  "axis": {"values": [1930,1935,1940,1945,1950,1955,1960,1965,1970,1975,1980,1985,1990,1995,2000,2005,2010,2015], "format": "d"}},
            "y": {"datum": 0, "type": "quantitative", "title": null,
                  "axis": {"values": [0,225,450,675,900,1125,1350,1575,1800,2025,2250], "domain": false, "labelExpr": "datum.value % 450 === 0 ? format(datum.value, ',') : ''"}},
            "y2": {"datum": 2250}
          }
        }
      ]
    }
  ],
  "config": {
    "view": {"stroke": "#8c8c8c", "strokeWidth": 2},
    "font": "Liberation Sans",
    "axis": {"labelFont": "Liberation Sans", "labelFontWeight": "bold", "labelColor": "#333333", "domainColor": "#404040", "domainWidth": 2, "tickColor": "#404040", "tickWidth": 1.5, "tickSize": 5, "grid": false},
    "axisX": {"labelFontSize": 14.5, "labelPadding": 5, "labelAngle": 270, "labelFlush": false, "labelOverlap": false},
    "axisY": {"labelFontSize": 15, "labelPadding": 7},
    "legend": {"orient": "top-left", "padding": 0, "titleFont": "Liberation Sans", "titleFontSize": 18, "titleFontWeight": "bold", "titleColor": "#222222", "titlePadding": 12, "labelFont": "Liberation Sans", "labelFontSize": 12, "labelFontWeight": "bold", "labelColor": "#222222", "symbolType": "square", "symbolSize": 42, "symbolStrokeColor": "#404040", "symbolStrokeWidth": 1, "rowPadding": 11, "labelOffset": 3}
  }
}
